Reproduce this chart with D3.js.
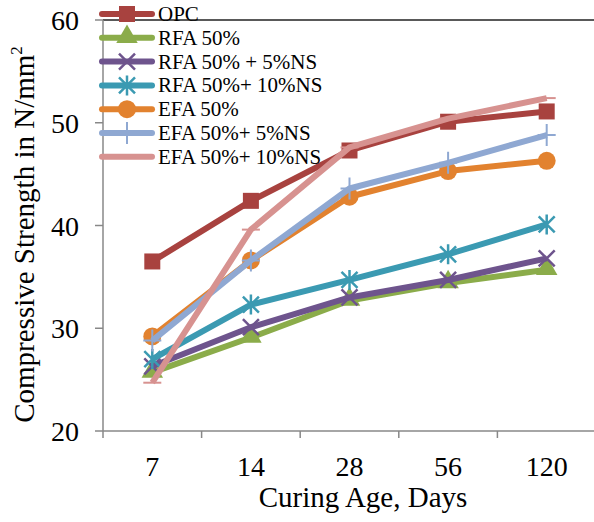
<!DOCTYPE html>
<html>
<head>
<meta charset="utf-8">
<script src="https://cdn.jsdelivr.net/npm/d3@7"></script>
<style>
  body { margin: 0; background: #fff; }
  text { font-family: "Liberation Serif", "Times New Roman", serif; fill: #000; }
</style>
</head>
<body>
<script>
// categories and series
var ages = ["7", "14", "28", "56", "120"];
var names = ["OPC", "RFA 50%", "RFA 50% + 5%NS", "RFA 50%+ 10%NS", "EFA 50%", "EFA 50%+ 5%NS", "EFA 50%+ 10%NS"];
var opc = [36.5, 42.4, 47.3, 50.1, 51.1];
var rfa = [25.7, 29.1, 32.7, 34.4, 35.7];
var rfa5 = [26.3, 30.1, 33.0, 34.7, 36.8];
var rfa10 = [27.0, 32.3, 34.7, 37.2, 40.1];
var efa = [29.2, 36.6, 42.8, 45.3, 46.3];
var efa5 = [28.8, 36.6, 43.6, 46.1, 48.8];
var efa10 = [24.7, 39.6, 47.6, 50.4, 52.4];
var yTicks = [20, 30, 40, 50, 60];

var colors = ["#A8423F", "#8BAC4A", "#6E548D", "#3B9AB2", "#E2822F", "#8FA8D2", "#D79290"];
var markers = ["square", "triangle", "x", "star", "circle", "plus", "none"];
var series = [opc, rfa, rfa5, rfa10, efa, efa5, efa10];

//Width and height
var w = 594;
var h = 522;

var svg = d3.select("body").append("svg")
    .attr("width", w)
    .attr("height", h);

var x0 = 103, x1 = 596, yTop = 20, yBot = 431;

var band = d3.scaleBand().domain(ages).range([x0, x1]);
var x = d3.scalePoint().domain(ages).range([x0, x1]).padding(0.5);
var y = d3.scaleLinear().domain([20, 60]).range([yBot, yTop]);

// top line at 60
svg.append("line")
    .attr("x1", x0).attr("x2", w)
    .attr("y1", y(60)).attr("y2", y(60))
    .attr("stroke", "#222").attr("stroke-width", 1.5);

// y axis
svg.append("line")
    .attr("x1", x0).attr("x2", x0)
    .attr("y1", yTop).attr("y2", yBot)
    .attr("stroke", "#888").attr("stroke-width", 1.5);
svg.selectAll(".ytick").data(yTicks).enter().append("line")
    .attr("x1", x0 - 8).attr("x2", x0)
    .attr("y1", d => y(d)).attr("y2", d => y(d))
    .attr("stroke", "#888").attr("stroke-width", 1.5);
svg.selectAll(".ylab").data(yTicks).enter().append("text")
    .attr("x", 79).attr("y", d => y(d) + 10)
    .attr("text-anchor", "end")
    .attr("font-size", 28)
    .text(d => d);

// x axis
svg.append("line")
    .attr("x1", x0).attr("x2", w)
    .attr("y1", yBot).attr("y2", yBot)
    .attr("stroke", "#888").attr("stroke-width", 1.5);
svg.selectAll(".xtick").data(ages).enter().append("line")
    .attr("x1", d => band(d)).attr("x2", d => band(d))
    .attr("y1", yBot).attr("y2", yBot + 7)
    .attr("stroke", "#888").attr("stroke-width", 1.5);
svg.selectAll(".xlab").data(ages).enter().append("text")
    .attr("x", d => x(d)).attr("y", 476)
    .attr("text-anchor", "middle")
    .attr("font-size", 28)
    .text(d => d);

// axis titles
svg.append("text")
    .attr("x", 363).attr("y", 507)
    .attr("text-anchor", "middle")
    .attr("font-size", 29)
    .text("Curing Age, Days");
var yt = svg.append("text")
    .attr("transform", "translate(34," + ((yTop + yBot) / 2 + 9) + ") rotate(-90)")
    .attr("text-anchor", "middle")
    .attr("font-size", 29);
yt.append("tspan").text("Compressive Strength in N/mm");
yt.append("tspan").attr("font-size", 17).attr("dy", -12).text("2");

function drawMarker(g, type, color, cx, cy) {
    if (type == "square") {
        g.append("rect").attr("x", cx - 8).attr("y", cy - 8).attr("width", 16).attr("height", 16).attr("fill", color);
    } else if (type == "triangle") {
        g.append("path").attr("d", d3.symbol(d3.symbolTriangle, 200)()).attr("transform", "translate(" + cx + "," + (cy - 1) + ")").attr("fill", color);
    } else if (type == "circle") {
        g.append("circle").attr("cx", cx).attr("cy", cy).attr("r", 9).attr("fill", color);
    } else if (type == "x") {
        g.append("path").attr("d", "M-8,-8L8,8M-8,8L8,-8").attr("transform", "translate(" + cx + "," + cy + ")")
            .attr("stroke", color).attr("stroke-width", 2.5).attr("fill", "none");
    } else if (type == "star") {
        g.append("path").attr("d", "M-8,-8L8,8M-8,8L8,-8M0,-10L0,10").attr("transform", "translate(" + cx + "," + cy + ")")
            .attr("stroke", color).attr("stroke-width", 2.5).attr("fill", "none");
    } else if (type == "plus") {
        g.append("path").attr("d", "M0,-11L0,11M-9,0L9,0").attr("transform", "translate(" + cx + "," + cy + ")")
            .attr("stroke", color).attr("stroke-width", 2).attr("fill", "none");
    } else if (type == "none") {
        g.append("path").attr("d", "M-9,0L9,0").attr("transform", "translate(" + cx + "," + cy + ")")
            .attr("stroke", color).attr("stroke-width", 2).attr("fill", "none");
    }
}

var line = d3.line().x((d, i) => x(ages[i])).y(d => y(d));

series.forEach(function(s, k) {
    var g = svg.append("g");
    g.append("path").datum(s)
        .attr("d", line)
        .attr("fill", "none")
        .attr("stroke", colors[k])
        .attr("stroke-width", 6)
        .attr("stroke-linejoin", "round");
    s.forEach(function(v, i) {
        drawMarker(g, markers[k], colors[k], x(ages[i]), y(v));
    });
});

// legend
var lg = svg.append("g");
names.forEach(function(n, k) {
    var ly = 14 + k * 23.8;
    lg.append("line")
        .attr("x1", 102).attr("x2", 152)
        .attr("y1", ly).attr("y2", ly)
        .attr("stroke", colors[k]).attr("stroke-width", 6)
        .attr("stroke-linecap", "round");
    drawMarker(lg, markers[k], colors[k], 127, ly);
    lg.append("text")
        .attr("x", 158).attr("y", ly + 7)
        .attr("font-size", 21)
        .text(n);
});
</script>
</body>
</html>
